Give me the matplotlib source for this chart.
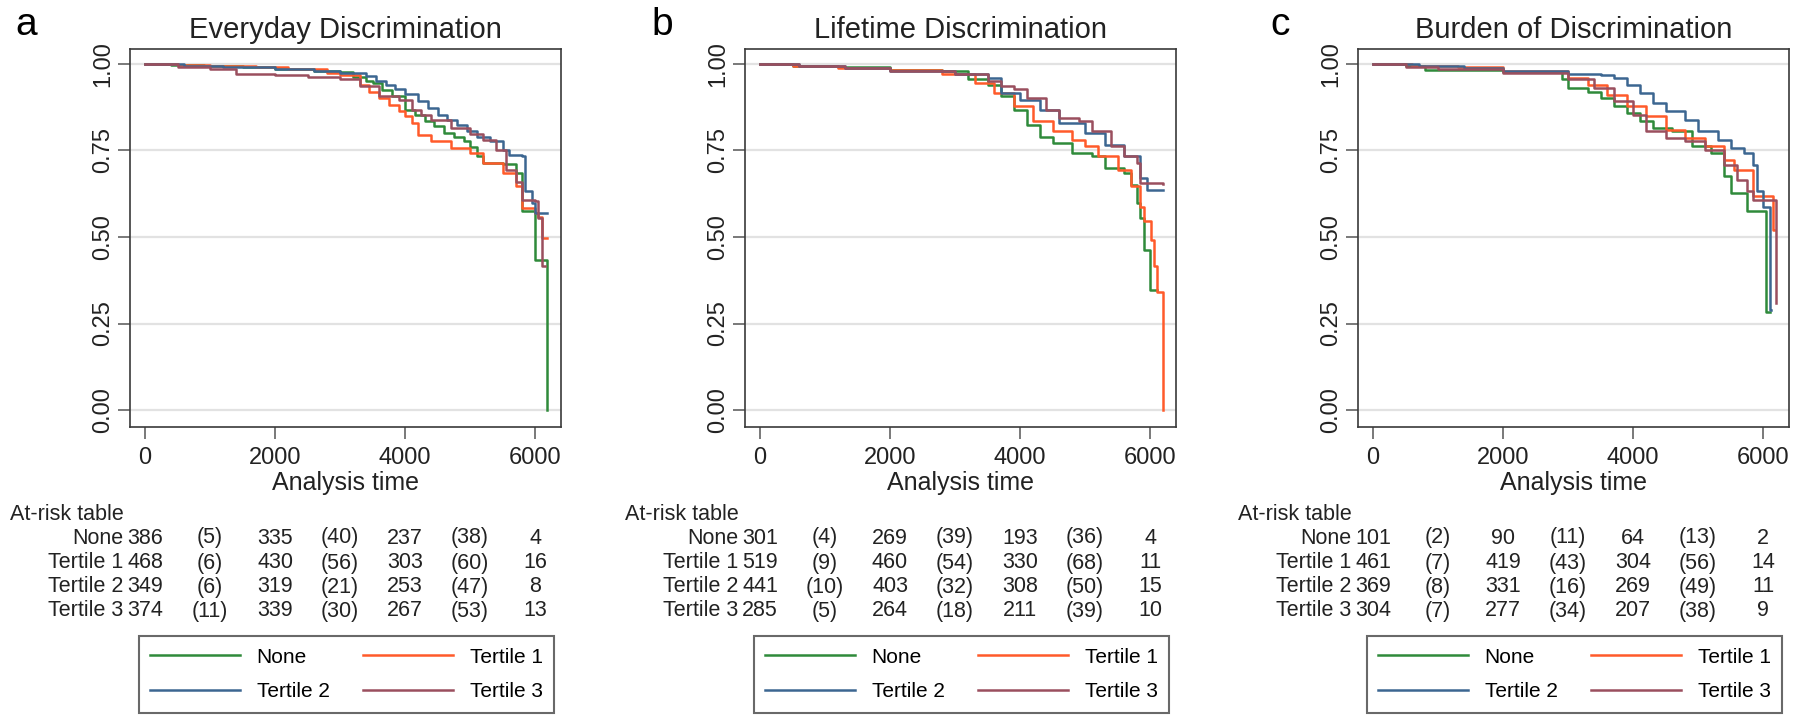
import matplotlib
matplotlib.use("Agg")
import matplotlib.pyplot as plt
import matplotlib.transforms as mtransforms

plt.rcParams["font.family"] = ["Liberation Sans", "DejaVu Sans"]

# panel titles / letters
panel_titles = ["Everyday Discrimination", "Lifetime Discrimination", "Burden of Discrimination"]
panel_letters = ["a", "b", "c"]
group_names = ["None", "Tertile 1", "Tertile 2", "Tertile 3"]
group_colors = ["#2F8A3A", "#FF5A2A", "#3C6691", "#9A4F5E"]

# ---- a: Everyday Discrimination (Kaplan-Meier steps) ----
a_none_t = [0, 400, 900, 1500, 2000, 2600, 3000, 3200, 3400, 3500, 3650, 3800, 4000, 4150, 4300, 4450, 4600, 4750, 4900, 5000, 5100, 5200, 5500, 5700, 5800, 6000, 6180]
a_none_s = [1.0, 0.996, 0.993, 0.99, 0.986, 0.98, 0.976, 0.962, 0.952, 0.945, 0.925, 0.906, 0.868, 0.853, 0.835, 0.82, 0.80, 0.79, 0.776, 0.76, 0.733, 0.714, 0.71, 0.685, 0.574, 0.434, 0.0]
a_t1_t = [0, 500, 1000, 1700, 2200, 2800, 3000, 3300, 3450, 3600, 3750, 3900, 4000, 4100, 4200, 4400, 4700, 5000, 5200, 5500, 5700, 5800, 6000, 6050, 6100, 6180]
a_t1_s = [1.0, 0.996, 0.993, 0.99, 0.984, 0.975, 0.969, 0.94, 0.92, 0.90, 0.882, 0.863, 0.85, 0.829, 0.795, 0.776, 0.757, 0.743, 0.714, 0.685, 0.646, 0.583, 0.569, 0.559, 0.497, 0.497]
a_t2_t = [0, 600, 1200, 2000, 2600, 3000, 3400, 3550, 3700, 3850, 4000, 4200, 4350, 4500, 4650, 4800, 4950, 5100, 5300, 5500, 5600, 5800, 5850, 5950, 6000, 6180]
a_t2_s = [1.0, 0.995, 0.99, 0.984, 0.979, 0.975, 0.966, 0.952, 0.94, 0.927, 0.914, 0.892, 0.873, 0.853, 0.838, 0.824, 0.805, 0.79, 0.776, 0.752, 0.738, 0.733, 0.632, 0.598, 0.569, 0.569]
a_t3_t = [0, 500, 1000, 1400, 2000, 2500, 3000, 3300, 3600, 3900, 4100, 4250, 4400, 4700, 5000, 5200, 5400, 5550, 5700, 5800, 6000, 6050, 6100, 6150]
a_t3_s = [1.0, 0.99, 0.985, 0.972, 0.969, 0.962, 0.955, 0.935, 0.906, 0.897, 0.868, 0.853, 0.839, 0.815, 0.796, 0.781, 0.752, 0.694, 0.66, 0.607, 0.603, 0.554, 0.415, 0.415]

# ---- b: Lifetime Discrimination ----
b_none_t = [0, 500, 1200, 2000, 2800, 3200, 3500, 3700, 3900, 4100, 4300, 4500, 4800, 5100, 5300, 5600, 5700, 5800, 5850, 5900, 6000, 6100]
b_none_s = [1.0, 0.995, 0.99, 0.983, 0.979, 0.955, 0.94, 0.906, 0.868, 0.824, 0.79, 0.771, 0.743, 0.733, 0.70, 0.685, 0.651, 0.598, 0.554, 0.463, 0.347, 0.347]
b_t1_t = [0, 500, 1200, 2000, 2800, 3300, 3600, 3900, 4200, 4500, 4800, 5000, 5200, 5500, 5700, 5850, 5900, 6020, 6060, 6100, 6200]
b_t1_s = [1.0, 0.994, 0.989, 0.982, 0.97, 0.945, 0.916, 0.877, 0.834, 0.805, 0.781, 0.762, 0.733, 0.694, 0.646, 0.588, 0.545, 0.492, 0.415, 0.342, 0.0]
b_t2_t = [0, 600, 1300, 2000, 3000, 3500, 3700, 4000, 4300, 4600, 5000, 5300, 5600, 5850, 5950, 6200]
b_t2_s = [1.0, 0.995, 0.988, 0.98, 0.97, 0.96, 0.916, 0.897, 0.868, 0.829, 0.80, 0.767, 0.733, 0.67, 0.636, 0.636]
b_t3_t = [0, 600, 1300, 2000, 3000, 3500, 3700, 3900, 4100, 4400, 4600, 4900, 5100, 5400, 5600, 5800, 5850, 6200]
b_t3_s = [1.0, 0.995, 0.988, 0.98, 0.97, 0.95, 0.935, 0.926, 0.902, 0.868, 0.844, 0.834, 0.805, 0.762, 0.733, 0.714, 0.656, 0.653]

# ---- c: Burden of Discrimination ----
c_none_t = [0, 500, 800, 2000, 2600, 2900, 3000, 3300, 3500, 3700, 3900, 4100, 4300, 4600, 4900, 5200, 5400, 5500, 5750, 6050, 6100]
c_none_s = [1.0, 0.995, 0.981, 0.978, 0.976, 0.955, 0.93, 0.92, 0.90, 0.877, 0.858, 0.834, 0.815, 0.805, 0.762, 0.743, 0.675, 0.627, 0.574, 0.284, 0.284]
c_t1_t = [0, 600, 1300, 2000, 3000, 3300, 3600, 3900, 4200, 4500, 4800, 5100, 5400, 5550, 5850, 6150, 6170]
c_t1_s = [1.0, 0.995, 0.99, 0.98, 0.96, 0.94, 0.911, 0.877, 0.849, 0.81, 0.786, 0.762, 0.723, 0.694, 0.617, 0.52, 0.52]
c_t2_t = [0, 700, 1400, 2000, 3000, 3500, 3700, 3900, 4100, 4300, 4500, 4800, 5000, 5300, 5500, 5700, 5850, 5900, 6000, 6100, 6120]
c_t2_s = [1.0, 0.993, 0.987, 0.98, 0.97, 0.969, 0.96, 0.94, 0.916, 0.887, 0.863, 0.839, 0.805, 0.781, 0.757, 0.743, 0.709, 0.632, 0.588, 0.29, 0.29]
c_t3_t = [0, 500, 1000, 2000, 3000, 3400, 3700, 4000, 4200, 4500, 4800, 5100, 5400, 5600, 5750, 5850, 6200]
c_t3_s = [1.0, 0.99, 0.985, 0.975, 0.955, 0.93, 0.892, 0.853, 0.805, 0.786, 0.776, 0.752, 0.709, 0.665, 0.632, 0.607, 0.31]

# at-risk tables: n at 0, (events), n at 2000, (events), n at 4000, (events), n at 6000
a_risk = [[386, 5, 335, 40, 237, 38, 4],
          [468, 6, 430, 56, 303, 60, 16],
          [349, 6, 319, 21, 253, 47, 8],
          [374, 11, 339, 30, 267, 53, 13]]
b_risk = [[301, 4, 269, 39, 193, 36, 4],
          [519, 9, 460, 54, 330, 68, 11],
          [441, 10, 403, 32, 308, 50, 15],
          [285, 5, 264, 18, 211, 39, 10]]
c_risk = [[101, 2, 90, 11, 64, 13, 2],
          [461, 7, 419, 43, 304, 56, 14],
          [369, 8, 331, 16, 269, 49, 11],
          [304, 7, 277, 34, 207, 38, 9]]
risk_times = [0, 1000, 2000, 3000, 4000, 5000, 6000]

panel_curves = [
    [(a_none_t, a_none_s), (a_t1_t, a_t1_s), (a_t2_t, a_t2_s), (a_t3_t, a_t3_s)],
    [(b_none_t, b_none_s), (b_t1_t, b_t1_s), (b_t2_t, b_t2_s), (b_t3_t, b_t3_s)],
    [(c_none_t, c_none_s), (c_t1_t, c_t1_s), (c_t2_t, c_t2_s), (c_t3_t, c_t3_s)],
]
panel_risk = [a_risk, b_risk, c_risk]

W, H = 1800, 726
fig = plt.figure(figsize=(W / 100, H / 100), dpi=100)

ax_left_px = [130, 745, 1358]
letter_px = [15, 651, 1270]
ax_top, ax_bot, ax_w = 49, 427, 431
row_y_px = [538, 563, 587, 611]

for i in range(3):
    l = ax_left_px[i]
    ax = fig.add_axes([l / W, 1 - ax_bot / H, ax_w / W, (ax_bot - ax_top) / H])

    # light horizontal grid
    for g in [0, 0.25, 0.5, 0.75, 1.0]:
        ax.axhline(g, color="#e2e2e2", lw=1.6, zorder=0)

    lines = []
    for (t, s), c, name in zip(panel_curves[i], group_colors, group_names):
        ln, = ax.step(t, s, where="post", color=c, lw=1.8, label=name)
        lines.append(ln)

    ax.set_xlim(-231, 6400)
    ax.set_ylim(-0.049, 1.043)
    ax.set_xticks([0, 2000, 4000, 6000])
    ax.set_yticks([0, 0.25, 0.5, 0.75, 1.0])
    ax.set_yticklabels(["0.00", "0.25", "0.50", "0.75", "1.00"], rotation=90, va="center")

    for sp in ax.spines.values():
        sp.set_color("#3a3a3a")
        sp.set_linewidth(1.2)
    ax.tick_params(length=8.5, width=1.1, color="#555555", labelsize=17, labelcolor="#222222")
    ax.tick_params(axis="x", pad=6)
    ax.tick_params(axis="y", pad=3)

    ax.set_title(panel_titles[i], fontsize=21, pad=8, color="#222222")
    ax.set_xlabel("Analysis time", fontsize=18, labelpad=1, color="#222222")

    fig.text(letter_px[i] / W, 1 - 25 / H, panel_letters[i], fontsize=28, va="center", ha="left")

    # at-risk table
    fig.text((l - 120) / W, 1 - 515 / H, "At-risk table", fontsize=15.5, va="center", ha="left",
             color="#222222")
    trans = mtransforms.blended_transform_factory(ax.transData, fig.transFigure)
    for r, name in enumerate(group_names):
        y = 1 - row_y_px[r] / H
        ax.text(-330, y, name, transform=trans, fontsize=15.5, ha="right", va="center",
                color="#222222", clip_on=False)
        for k, (tt, v) in enumerate(zip(risk_times, panel_risk[i][r])):
            txt = f"({v})" if k % 2 == 1 else str(v)
            ax.text(tt, y, txt, transform=trans, fontsize=15.5, ha="center", va="center",
                    color="#222222", clip_on=False)

    # legend box under the table
    order = [lines[0], lines[2], lines[1], lines[3]]
    leg_l = l + 9
    leg_r = l + ax_w - 7
    fig.legend(order, [ln.get_label() for ln in order],
               bbox_to_anchor=(leg_l / W, 1 - 716 / H, (leg_r - leg_l) / W, 83 / H),
               loc="center", mode="expand", ncol=2, fontsize=15, frameon=True,
               fancybox=False, edgecolor="#444444", handlelength=4.3,
               handletextpad=0.8, labelspacing=0.75, borderpad=0.55,
               borderaxespad=0)
    fig.legends[-1].get_frame().set_linewidth(1.5)

fig.savefig("out.png", dpi=100)
